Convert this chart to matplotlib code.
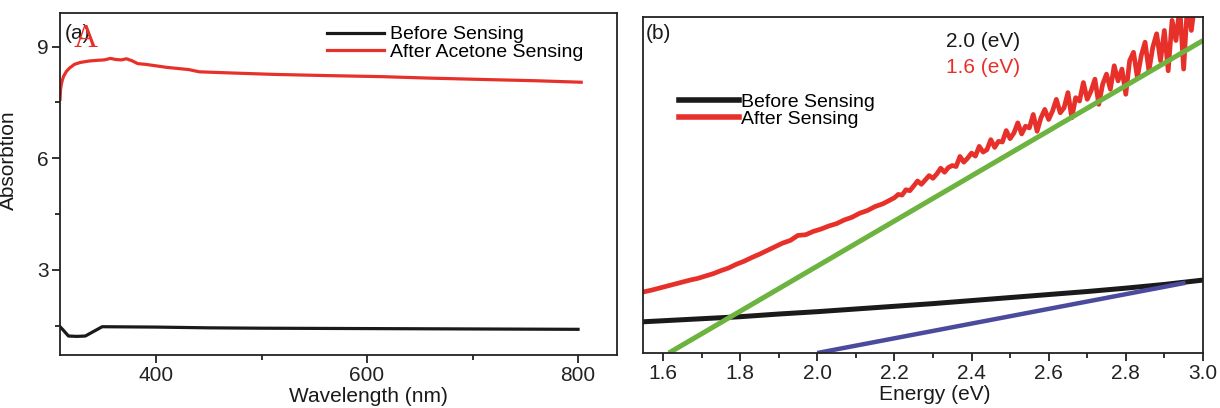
import matplotlib.pyplot as plt
from matplotlib.ticker import MultipleLocator, FormatStrFormatter

plt.rcParams['font.family'] = ['Liberation Sans', 'DejaVu Sans']

# panel (a): absorption spectra
wl_before = [309, 312, 317, 325, 333, 340, 349, 400, 450, 500, 600, 700, 800]
abs_before = [1.47, 1.38, 1.22, 1.21, 1.22, 1.33, 1.47, 1.46, 1.44, 1.43, 1.42, 1.41, 1.40]

wl_after = [309, 309.5, 310, 311, 312.4, 315, 318, 322.6, 328, 336.4, 345, 351, 356.8,
            362, 367, 372, 377, 382.7, 390, 397.7, 410, 431, 441, 470, 512.5, 560,
            614, 660, 716, 760, 803]
abs_after = [7.58, 7.84, 7.95, 8.08, 8.2, 8.33, 8.42, 8.52, 8.57, 8.61, 8.63, 8.64, 8.68,
             8.65, 8.64, 8.67, 8.62, 8.54, 8.52, 8.49, 8.44, 8.38, 8.32, 8.29, 8.25, 8.22,
             8.19, 8.15, 8.11, 8.08, 8.04]

# panel (b): Tauc plot
e_black = [1.55, 1.70, 1.80, 1.90, 2.00, 2.10, 2.20, 2.30, 2.40, 2.50, 2.60, 2.70, 2.80, 2.90, 3.00]
tauc_black = [0.93, 1.02, 1.08, 1.16, 1.23, 1.31, 1.39, 1.47, 1.56, 1.65, 1.74, 1.83, 1.93, 2.04, 2.17]

e_red = [1.55, 1.57, 1.59, 1.61, 1.63, 1.65, 1.67, 1.69, 1.71, 1.73, 1.75, 1.77, 1.79,
         1.81, 1.83, 1.85, 1.87, 1.89, 1.91, 1.93, 1.95, 1.97, 1.99, 2.01, 2.03, 2.05,
         2.07, 2.09, 2.11, 2.13, 2.15, 2.17, 2.19,
         2.20, 2.21, 2.22, 2.23, 2.24, 2.25, 2.26, 2.27, 2.28, 2.29, 2.30, 2.31, 2.32,
         2.33, 2.34, 2.35, 2.36, 2.37, 2.38, 2.39, 2.40, 2.41, 2.42, 2.43, 2.44, 2.45,
         2.46, 2.47, 2.48, 2.49, 2.50, 2.51, 2.52, 2.53, 2.54, 2.55, 2.56, 2.57, 2.58,
         2.59, 2.60, 2.61, 2.62, 2.63, 2.64, 2.65, 2.66, 2.67, 2.68, 2.69, 2.70, 2.71,
         2.72, 2.73, 2.74, 2.75, 2.76, 2.77, 2.78, 2.79, 2.80, 2.81, 2.82, 2.83, 2.84,
         2.85, 2.86, 2.87, 2.88, 2.89, 2.90, 2.91, 2.92, 2.93, 2.94, 2.95, 2.96, 2.97,
         2.98, 2.99, 3.00]
tauc_red = [1.82, 1.87, 1.93, 1.99, 2.05, 2.11, 2.17, 2.22, 2.29, 2.36, 2.45, 2.53, 2.64,
            2.73, 2.84, 2.94, 3.05, 3.16, 3.27, 3.35, 3.50, 3.52, 3.62, 3.69, 3.78, 3.85,
            3.96, 4.04, 4.16, 4.24, 4.36, 4.44, 4.56,
            4.62, 4.72, 4.70, 4.86, 4.83, 4.97, 5.12, 5.02, 5.15, 5.28, 5.20, 5.33, 5.50,
            5.38, 5.52, 5.58, 5.55, 5.85, 5.68, 5.80, 5.95, 5.86, 6.15, 5.98, 6.05, 6.35,
            6.12, 6.30, 6.28, 6.62, 6.38, 6.55, 6.85, 6.52, 6.75, 6.70, 7.10, 6.60, 7.00,
            7.25, 6.95, 7.20, 7.55, 7.15, 7.30, 7.75, 7.00, 7.60, 7.50, 8.05, 7.55, 7.80,
            8.15, 7.40, 8.00, 8.30, 7.85, 8.55, 8.10, 8.45, 7.70, 8.70, 8.95, 8.20, 8.85,
            9.25, 8.40, 9.10, 9.50, 8.70, 9.60, 8.40, 9.90, 9.30, 10.3, 8.45, 10.4, 9.60,
            10.5, 10.2, 10.6]

fit_green_x = [1.615, 3.0]
fit_green_y = [0.0, 9.3]
fit_blue_x = [2.0, 2.955]
fit_blue_y = [0.0, 2.09]

red = '#e8302a'
dark = '#1a1a1a'

fig = plt.figure(figsize=(12.2, 4.08), dpi=100)
ax1 = fig.add_axes([0.0492, 0.1299, 0.4566, 0.8382])
ax2 = fig.add_axes([0.5270, 0.1348, 0.4590, 0.8235])

# ---- (a)
ax1.plot(wl_before, abs_before, color=dark, lw=2.3, label='Before Sensing')
ax1.plot(wl_after, abs_after, color=red, lw=2.3, label='After Acetone Sensing')
ax1.set_xlim(309, 837)
ax1.set_ylim(0.71, 9.9)
ax1.xaxis.set_major_locator(MultipleLocator(200))
ax1.xaxis.set_minor_locator(MultipleLocator(100))
ax1.yaxis.set_major_locator(MultipleLocator(3))
ax1.yaxis.set_minor_locator(MultipleLocator(1.5))
ax1.set_xlabel('Wavelength (nm)', fontsize=15, color=dark)
ax1.set_ylabel('Absorbtion', fontsize=15, color=dark)
ax1.xaxis.set_label_coords(0.553, -0.095)
ax1.yaxis.set_label_coords(-0.075, 0.57)
ax1.legend(loc='upper left', bbox_to_anchor=(0.452, 1.008), frameon=False, fontsize=14,
           handlelength=2.9, handletextpad=0.3, labelspacing=0.0, borderpad=0.3)
ax1.text(0.009, 0.94, '(a)', transform=ax1.transAxes, fontsize=15, color=dark, va='center')
ax1.text(0.025, 0.924, 'A', transform=ax1.transAxes, fontsize=24, color=red, va='center',
         family='Liberation Serif')

# ---- (b)
ax2.plot(e_black, tauc_black, color=dark, lw=3.6, label='Before Sensing')
ax2.plot(e_red, tauc_red, color=red, lw=3.4, label='After Sensing')
ax2.plot(fit_green_x, fit_green_y, color='#6cb33f', lw=3.6, solid_capstyle='butt')
ax2.plot(fit_blue_x, fit_blue_y, color='#4b4b9e', lw=3.2, solid_capstyle='butt')
ax2.set_xlim(1.548, 3.0)
ax2.set_ylim(0, 10)
ax2.xaxis.set_major_locator(MultipleLocator(0.2))
ax2.xaxis.set_minor_locator(MultipleLocator(0.1))
ax2.xaxis.set_major_formatter(FormatStrFormatter('%.1f'))
ax2.set_yticks([])
ax2.set_xlabel('Energy (eV)', fontsize=15, color=dark)
ax2.xaxis.set_label_coords(0.521, -0.095)
leg = ax2.legend(loc='upper left', bbox_to_anchor=(0.036, 0.82), frameon=False, fontsize=14,
                 handlelength=3.1, handletextpad=0.1, labelspacing=0.0, borderpad=0.3)
for line in leg.get_lines():
    line.set_linewidth(4)
ax2.text(0.005, 0.952, '(b)', transform=ax2.transAxes, fontsize=15, color=dark, va='center')
ax2.text(0.607, 0.926, '2.0 (eV)', transform=ax2.transAxes, fontsize=15, color=dark,
         ha='center', va='center')
ax2.text(0.607, 0.851, '1.6 (eV)', transform=ax2.transAxes, fontsize=15, color=red,
         ha='center', va='center')

for ax in (ax1, ax2):
    for sp in ax.spines.values():
        sp.set_linewidth(1.3)
        sp.set_color('#222222')
    ax.tick_params(which='major', direction='out', length=6, width=1.3, labelsize=15,
                   pad=2, colors='#222222')
    ax.tick_params(which='minor', direction='out', length=3.5, width=1.3, colors='#222222')

fig.savefig('out.png', dpi=100)
